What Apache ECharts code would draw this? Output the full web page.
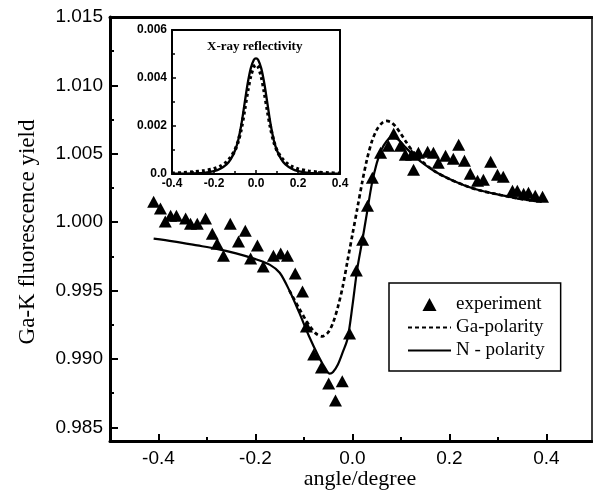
<!DOCTYPE html>
<html>
<head>
<meta charset="utf-8">
<script src="https://cdn.jsdelivr.net/npm/echarts@6/dist/echarts.min.js"></script>
<style>
html,body{margin:0;padding:0;background:#fff;}
#chart{width:593px;height:491px;}
</style>
</head>
<body>
<div id="chart"></div>
<script>
// ---- main panel data ----
const expAngle = [-0.410,-0.396,-0.386,-0.375,-0.363,-0.344,-0.334,-0.320,-0.303,-0.289,-0.279,-0.266,-0.252,-0.235,-0.221,-0.210,-0.196,-0.184,-0.163,-0.148,-0.134,-0.118,-0.103,-0.095,-0.080,-0.064,-0.049,-0.035,-0.021,-0.006,0.008,0.021,0.031,0.041,0.058,0.074,0.085,0.099,0.109,0.122,0.126,0.136,0.155,0.167,0.177,0.192,0.208,0.219,0.231,0.243,0.258,0.270,0.285,0.299,0.311,0.330,0.340,0.353,0.363,0.377,0.392];
const expYield = [1.00150,1.00099,1.00004,1.00047,1.00047,1.00026,0.99989,0.99989,1.00026,0.99916,0.99843,0.99755,0.99989,0.99858,0.99938,0.99734,0.99829,0.99675,0.99755,0.99770,0.99755,0.99624,0.99493,0.99237,0.99033,0.98938,0.98821,0.98697,0.98836,0.99186,0.99646,0.99872,1.00120,1.00325,1.00507,1.00558,1.00646,1.00558,1.00493,1.00493,1.00383,1.00507,1.00515,1.00507,1.00434,1.00485,1.00464,1.00566,1.00449,1.00354,1.00303,1.00310,1.00442,1.00347,1.00332,1.00230,1.00230,1.00208,1.00215,1.00193,1.00186];

const nAngle = [-0.410,-0.37,-0.32,-0.28,-0.24,-0.20,-0.17,-0.15,-0.13,-0.11,-0.09,-0.07,-0.055,-0.047,-0.04,-0.03,-0.02,-0.01,0.0,0.01,0.02,0.03,0.04,0.05,0.06,0.07,0.08,0.09,0.10,0.11,0.13,0.15,0.17,0.20,0.23,0.26,0.29,0.32,0.35,0.39];
const nYield = [0.99880,0.99860,0.99830,0.99805,0.99772,0.99730,0.99688,0.99630,0.99500,0.99340,0.99170,0.99020,0.98925,0.98893,0.98905,0.98960,0.99050,0.99150,0.99390,0.99660,0.99860,1.00070,1.00280,1.00430,1.00530,1.00590,1.00620,1.00615,1.00585,1.00545,1.00475,1.00418,1.00370,1.00315,1.00270,1.00235,1.00210,1.00188,1.00168,1.00150];

const gaAngle = [-0.13,-0.11,-0.09,-0.075,-0.062,-0.05,-0.04,-0.03,-0.02,-0.01,0.0,0.01,0.02,0.03,0.04,0.05,0.06,0.07,0.08,0.09,0.10,0.11,0.125,0.145,0.17,0.20,0.23,0.26,0.29,0.32,0.35,0.39];
const gaYield = [0.99500,0.99370,0.99250,0.99185,0.99165,0.99195,0.99265,0.99380,0.99530,0.99720,0.99910,1.00100,1.00290,1.00460,1.00590,1.00675,1.00722,1.00740,1.00730,1.00695,1.00645,1.00590,1.00515,1.00440,1.00372,1.00315,1.00270,1.00235,1.00210,1.00188,1.00168,1.00150];

// ---- inset data (X-ray reflectivity) ----
const fitAngle = [-0.40,-0.30,-0.24,-0.20,-0.17,-0.14,-0.12,-0.10,-0.085,-0.07,-0.055,-0.04,-0.025,-0.01,0,0.01,0.025,0.04,0.055,0.07,0.085,0.10,0.12,0.14,0.17,0.20,0.24,0.30,0.40];
const fitRefl = [0.00001,0.00003,0.00006,0.00012,0.00022,0.00040,0.00062,0.00098,0.00140,0.00205,0.00290,0.00375,0.00440,0.00476,0.00482,0.00476,0.00440,0.00375,0.00290,0.00205,0.00140,0.00098,0.00062,0.00040,0.00022,0.00012,0.00006,0.00003,0.00001];
const measAngle = [-0.40,-0.35,-0.30,-0.25,-0.20,-0.17,-0.14,-0.12,-0.10,-0.085,-0.07,-0.055,-0.04,-0.025,-0.01,0,0.01,0.025,0.04,0.055,0.07,0.085,0.10,0.12,0.14,0.17,0.20,0.25,0.30,0.35,0.40];
const measRefl = [0.00003,0.00005,0.00008,0.00013,0.00022,0.00032,0.00050,0.00070,0.00100,0.00135,0.00190,0.00265,0.00345,0.00410,0.00448,0.00455,0.00448,0.00408,0.00340,0.00262,0.00190,0.00135,0.00098,0.00068,0.00049,0.00031,0.00021,0.00012,0.00007,0.00004,0.00003];

// ---- ticks ----
const xMajorTicks = [-0.4,-0.2,0,0.2,0.4];
const xMinorTicks = [-0.3,-0.1,0.1,0.3];
const yMajorTicks = [0.985,0.990,0.995,1.000,1.005,1.010,1.015];
const yMinorTicks = [0.9875,0.9925,0.9975,1.0025,1.0075,1.0125];

const zip = (a,b) => a.map((v,i)=>[v,b[i]]);

const X_MIN=-0.5, X_MAX=0.494, Y_MIN=0.984, Y_MAX=1.015;
const sans='Liberation Sans', serif='Liberation Serif';
const black='#000';
const hidden = {color:'rgba(0,0,0,0)', borderColor:'rgba(0,0,0,0)', borderWidth:0};

const chart = echarts.init(document.getElementById('chart'), null, {renderer:'canvas'});
chart.setOption({
  animation:false,
  backgroundColor:'#fff',
  grid:[
    {left:110, top:17, width:482, height:424, containLabel:false, outerBoundsMode:'none'},
    {left:172, top:30, width:168, height:144, containLabel:false, outerBoundsMode:'none'}
  ],
  title:{text:'X-ray reflectivity', left:202, top:35,
    textStyle:{fontFamily:serif, fontWeight:'bold', fontSize:13, color:black}},
  legend:{
    orient:'vertical', left:389, top:283,
    padding:[12,16,11,18], itemGap:4, itemWidth:43, itemHeight:13,
    borderColor:black, borderWidth:1.5, backgroundColor:'#fff',
    textStyle:{fontFamily:serif, fontSize:19, color:black, lineHeight:18},
    data:[
      {name:'experiment', icon:'path://M0,12 L6.5,0 L13,12 Z'},
      {name:'Ga-polarity', itemStyle:hidden},
      {name:'N - polarity', itemStyle:hidden}
    ],
    symbolKeepAspect:true
  },
  xAxis:[
    {gridIndex:0, type:'value', min:X_MIN, max:X_MAX, position:'bottom',
     axisLine:{onZero:false, lineStyle:{color:black,width:3}},
     axisTick:{inside:true, length:7, lineStyle:{color:black,width:2}, customValues:xMajorTicks},
     axisLabel:{customValues:xMajorTicks, formatter:v=>v.toFixed(1), fontFamily:sans, fontSize:19, color:black, margin:8},
     splitLine:{show:false},
     name:'angle/degree', nameLocation:'middle', nameGap:27, nameMoveOverlap:false,
     nameTextStyle:{fontFamily:serif, fontSize:22, color:black, padding:[0,0,0,18]}},
    {gridIndex:0, type:'value', min:X_MIN, max:X_MAX, position:'top',
     axisLine:{onZero:false, lineStyle:{color:black,width:3}}, axisTick:{show:false}, axisLabel:{show:false}, splitLine:{show:false}},
    {gridIndex:0, type:'value', min:X_MIN, max:X_MAX, position:'bottom',
     axisLine:{onZero:false, show:false},
     axisTick:{inside:true, length:4, lineStyle:{color:black,width:2}, customValues:xMinorTicks},
     axisLabel:{show:false}, splitLine:{show:false}},
    {gridIndex:1, type:'value', min:-0.4, max:0.4, interval:0.2, position:'bottom',
     axisLine:{onZero:false, lineStyle:{color:black,width:2}},
     axisTick:{inside:true, length:4, lineStyle:{color:black,width:1.5}},
     minorTick:{show:true, splitNumber:2, length:3, lineStyle:{color:black,width:1.5}},
     axisLabel:{formatter:v=>v.toFixed(1), fontFamily:sans, fontWeight:'bold', fontSize:12, color:black, margin:4},
     splitLine:{show:false}},
    {gridIndex:1, type:'value', min:-0.4, max:0.4, position:'top',
     axisLine:{onZero:false, lineStyle:{color:black,width:2}}, axisTick:{show:false}, axisLabel:{show:false}, splitLine:{show:false}}
  ],
  yAxis:[
    {gridIndex:0, type:'value', min:Y_MIN, max:Y_MAX, position:'left',
     axisLine:{onZero:false, lineStyle:{color:black,width:3}},
     axisTick:{inside:true, length:8, lineStyle:{color:black,width:2}, customValues:yMajorTicks},
     axisLabel:{customValues:yMajorTicks, formatter:v=>v.toFixed(3), fontFamily:sans, fontSize:19, color:black, margin:7},
     splitLine:{show:false},
     name:'Ga-K fluorescence yield', nameLocation:'middle', nameGap:71,
     nameTextStyle:{fontFamily:serif, fontSize:23, color:black, padding:[0,6,0,0]}},
    {gridIndex:0, type:'value', min:Y_MIN, max:Y_MAX, position:'right',
     axisLine:{onZero:false, lineStyle:{color:black,width:1.5}}, axisTick:{show:false}, axisLabel:{show:false}, splitLine:{show:false}},
    {gridIndex:0, type:'value', min:Y_MIN, max:Y_MAX, position:'left',
     axisLine:{onZero:false, show:false},
     axisTick:{inside:true, length:4, lineStyle:{color:black,width:2}, customValues:yMinorTicks},
     axisLabel:{show:false}, splitLine:{show:false}},
    {gridIndex:1, type:'value', min:0, max:0.006, interval:0.002, position:'left',
     axisLine:{onZero:false, lineStyle:{color:black,width:2}},
     axisTick:{inside:true, length:4, lineStyle:{color:black,width:1.5}},
     minorTick:{show:true, splitNumber:2, length:3, lineStyle:{color:black,width:1.5}},
     axisLabel:{formatter:v=>v===0?'0.0':v.toFixed(3), fontFamily:sans, fontWeight:'bold', fontSize:12, color:black, margin:5},
     splitLine:{show:false}},
    {gridIndex:1, type:'value', min:0, max:0.006, position:'right',
     axisLine:{onZero:false, lineStyle:{color:black,width:2}}, axisTick:{show:false}, axisLabel:{show:false}, splitLine:{show:false}}
  ],
  series:[
    {name:'Ga-polarity', type:'line', xAxisIndex:0, yAxisIndex:0, data:zip(gaAngle,gaYield),
     showSymbol:false, symbol:'none', smooth:0.3,
     lineStyle:{color:black, width:2.7, type:[4,3]}, itemStyle:{color:black}, z:2},
    {name:'N - polarity', type:'line', xAxisIndex:0, yAxisIndex:0, data:zip(nAngle,nYield),
     showSymbol:false, symbol:'none', smooth:0.3,
     lineStyle:{color:black, width:2.2, type:'solid'}, itemStyle:{color:black}, z:3},
    {name:'experiment', type:'scatter', xAxisIndex:0, yAxisIndex:0, data:zip(expAngle,expYield),
     symbol:'triangle', symbolSize:[13,12], itemStyle:{color:black, opacity:1}, z:4},
    {name:'fit', type:'line', xAxisIndex:3, yAxisIndex:3, data:zip(fitAngle,fitRefl),
     showSymbol:false, symbol:'none', smooth:0.3,
     lineStyle:{color:black, width:2.3}, z:3},
    {name:'measured', type:'line', xAxisIndex:3, yAxisIndex:3, data:zip(measAngle,measRefl),
     showSymbol:false, symbol:'none', smooth:0.3,
     lineStyle:{color:black, width:3.5, type:[3,3], cap:'butt'}, z:4}
  ]
});
</script>
</body>
</html>
